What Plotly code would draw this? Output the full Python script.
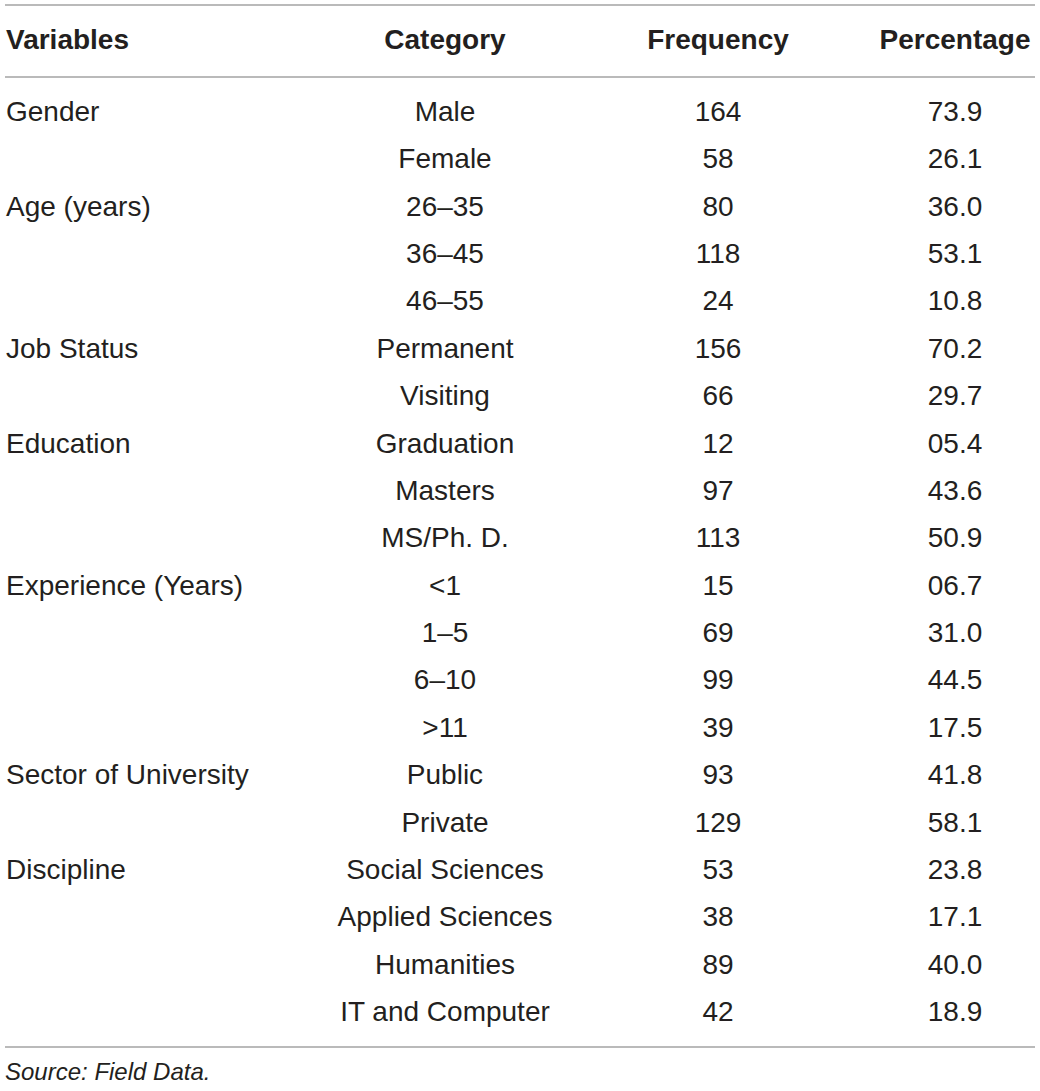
import plotly.graph_objects as go

# --- Table data ---
headers = ["Variables", "Category", "Frequency", "Percentage"]
variables = ["Gender", "", "Age (years)", "", "", "Job Status", "", "Education", "", "",
             "Experience (Years)", "", "", "", "Sector of University", "", "Discipline", "", "", ""]
categories = ["Male", "Female", "26–35", "36–45", "46–55", "Permanent", "Visiting",
              "Graduation", "Masters", "MS/Ph. D.", "<1", "1–5", "6–10", ">11",
              "Public", "Private", "Social Sciences", "Applied Sciences", "Humanities",
              "IT and Computer"]
frequency = [164, 58, 80, 118, 24, 156, 66, 12, 97, 113, 15, 69, 99, 39, 93, 129, 53, 38, 89, 42]
percentage = ["73.9", "26.1", "36.0", "53.1", "10.8", "70.2", "29.7", "05.4", "43.6", "50.9",
              "06.7", "31.0", "44.5", "17.5", "41.8", "58.1", "23.8", "17.1", "40.0", "18.9"]
source_note = "Source: Field Data."

# --- geometry in pixels ---
W, H = 1040, 1091
row0, step = 114, 47.37           # centre of first row, row pitch
def py(p):                         # pixel y -> row units
    return (p - row0) / step

col_x = [6, 445, 718, 955]
rows = list(range(len(categories)))
txt = "#231f20"
font = "Liberation Sans, Arial, sans-serif"
fs = 28

fig = go.Figure()

# header
fig.add_trace(go.Scatter(
    x=[col_x[0]], y=[py(42)], mode="text", text=[headers[0]],
    textposition="middle right", cliponaxis=False,
    textfont=dict(family=font, size=fs, color=txt, weight="bold")))
fig.add_trace(go.Scatter(
    x=col_x[1:], y=[py(42)] * 3, mode="text", text=headers[1:],
    textposition="middle center", cliponaxis=False,
    textfont=dict(family=font, size=fs, color=txt, weight="bold")))

# body
fig.add_trace(go.Scatter(
    x=[col_x[0]] * len(rows), y=rows, mode="text", text=variables,
    textposition="middle right", cliponaxis=False,
    textfont=dict(family=font, size=fs, color=txt)))
for cx, vals in zip(col_x[1:], [categories, frequency, percentage]):
    fig.add_trace(go.Scatter(
        x=[cx] * len(rows), y=rows, mode="text", text=[str(v) for v in vals],
        textposition="middle center", cliponaxis=False,
        textfont=dict(family=font, size=fs, color=txt)))

# footnote
fig.add_trace(go.Scatter(
    x=[col_x[0] - 1], y=[py(1074)], mode="text", text=[source_note],
    textposition="middle right", cliponaxis=False,
    textfont=dict(family=font, size=24, color=txt, style="italic")))

# horizontal rules
for p in [5, 77, 1047]:
    fig.add_shape(type="line", x0=5, x1=1035, y0=py(p), y1=py(p),
                  xref="x", yref="y", line=dict(color="#a3a3a3", width=1.6))

fig.update_layout(
    width=W, height=H, showlegend=False,
    paper_bgcolor="white", plot_bgcolor="white",
    margin=dict(l=0, r=0, t=0, b=0),
    xaxis=dict(range=[0, W], visible=False, fixedrange=True),
    yaxis=dict(range=[py(H), py(0)], visible=False, fixedrange=True),
)

# drop the browser's default body margin so the figure sits at the page origin
fig.write_html("out.html", config={"displayModeBar": False},
               post_script="document.body.style.margin='0';")
